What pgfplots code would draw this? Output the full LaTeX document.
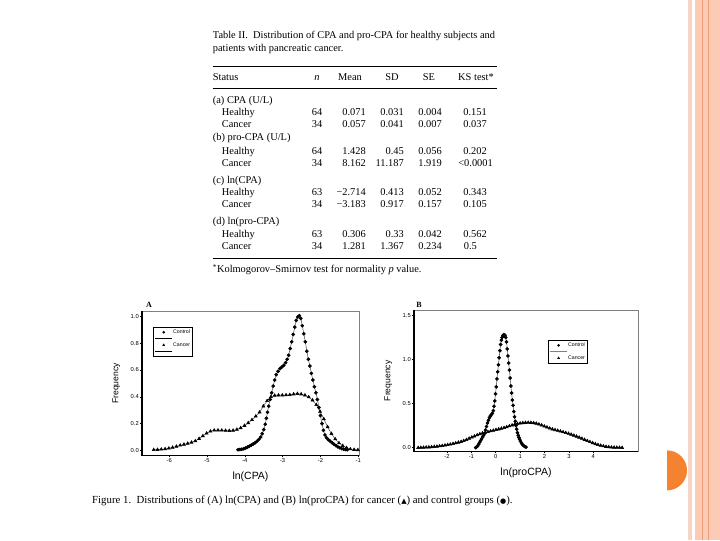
\documentclass[border=0pt]{standalone}
\usepackage{pgfplots}
\usepackage{pgfplotstable}
\pgfplotsset{compat=1.18}
\usepackage{fontspec}
\setmainfont{Liberation Serif}
\setsansfont{Liberation Sans}
\newfontfamily\symfont{DejaVu Sans}
\definecolor{peach}{RGB}{251,203,182}
\definecolor{peachlight}{RGB}{246,212,196}
\definecolor{peachdark}{RGB}{236,158,122}
\definecolor{accent}{RGB}{245,130,48}

\pgfplotstableread{
x y
-4.18 0.005
-4.13 0.007
-4.08 0.009
-4.03 0.012
-3.98 0.018
-3.93 0.025
-3.88 0.032
-3.83 0.040
-3.78 0.048
-3.73 0.057
-3.68 0.068
-3.63 0.082
-3.58 0.100
-3.54 0.125
-3.50 0.155
-3.46 0.195
-3.43 0.240
-3.40 0.285
-3.37 0.330
-3.33 0.380
-3.29 0.430
-3.25 0.480
-3.21 0.525
-3.17 0.565
-3.12 0.590
-3.07 0.610
-3.02 0.622
-2.97 0.635
-2.92 0.655
-2.88 0.680
-2.84 0.710
-2.80 0.760
-2.76 0.810
-2.72 0.865
-2.68 0.920
-2.64 0.970
-2.60 0.995
-2.56 1.005
-2.52 0.985
-2.48 0.930
-2.44 0.870
-2.40 0.810
-2.36 0.740
-2.32 0.680
-2.28 0.630
-2.24 0.575
-2.20 0.525
-2.16 0.475
-2.12 0.430
-2.08 0.380
-2.04 0.320
-2.00 0.260
-1.96 0.200
-1.92 0.150
-1.88 0.115
-1.84 0.095
-1.79 0.080
-1.74 0.068
-1.69 0.057
-1.64 0.046
-1.59 0.036
-1.54 0.027
-1.49 0.020
-1.44 0.014
-1.39 0.010
-1.34 0.007
-1.29 0.005
}\ctrlA

\pgfplotstableread{
x y
-6.41 0.005
-6.31 0.006
-6.21 0.008
-6.11 0.011
-6.01 0.016
-5.91 0.022
-5.81 0.030
-5.71 0.038
-5.61 0.045
-5.51 0.052
-5.41 0.060
-5.31 0.070
-5.21 0.088
-5.11 0.108
-5.01 0.128
-4.91 0.143
-4.81 0.150
-4.71 0.151
-4.61 0.150
-4.51 0.148
-4.41 0.147
-4.31 0.149
-4.21 0.156
-4.11 0.168
-4.01 0.185
-3.91 0.205
-3.81 0.228
-3.71 0.255
-3.61 0.285
-3.51 0.330
-3.41 0.370
-3.31 0.400
-3.21 0.410
-3.11 0.412
-3.01 0.412
-2.91 0.413
-2.81 0.415
-2.71 0.420
-2.61 0.423
-2.51 0.420
-2.41 0.412
-2.31 0.398
-2.21 0.375
-2.11 0.340
-2.01 0.290
-1.91 0.235
-1.81 0.175
-1.71 0.125
-1.61 0.085
-1.51 0.055
-1.41 0.035
-1.31 0.020
-1.21 0.010
-1.11 0.006
-1.01 0.004
}\cancA

\pgfplotstableread{
x y
-0.82 0.00
-0.78 0.01
-0.74 0.02
-0.70 0.04
-0.66 0.06
-0.62 0.08
-0.58 0.10
-0.54 0.12
-0.50 0.14
-0.46 0.16
-0.42 0.20
-0.38 0.24
-0.34 0.28
-0.30 0.31
-0.26 0.34
-0.22 0.36
-0.18 0.375
-0.14 0.39
-0.10 0.42
-0.07 0.47
-0.04 0.53
-0.01 0.61
0.02 0.69
0.05 0.78
0.08 0.86
0.11 0.94
0.14 1.02
0.17 1.10
0.20 1.17
0.23 1.22
0.26 1.25
0.29 1.27
0.32 1.28
0.35 1.28
0.38 1.275
0.41 1.25
0.44 1.20
0.47 1.12
0.50 1.04
0.53 0.96
0.56 0.88
0.59 0.79
0.62 0.70
0.65 0.62
0.68 0.54
0.71 0.48
0.74 0.41
0.77 0.35
0.80 0.30
0.83 0.25
0.86 0.21
0.89 0.17
0.92 0.14
0.95 0.115
0.98 0.095
1.01 0.075
1.05 0.055
1.09 0.038
1.13 0.025
1.18 0.014
1.24 0.006
}\ctrlB

\pgfplotstableread{
x y
-3.18 0.000
-3.07 0.001
-2.96 0.002
-2.85 0.004
-2.74 0.006
-2.63 0.008
-2.52 0.011
-2.41 0.014
-2.30 0.018
-2.19 0.022
-2.08 0.027
-1.97 0.032
-1.86 0.038
-1.75 0.045
-1.64 0.052
-1.53 0.060
-1.42 0.068
-1.31 0.078
-1.20 0.090
-1.09 0.105
-0.98 0.118
-0.87 0.130
-0.76 0.143
-0.65 0.155
-0.54 0.165
-0.43 0.172
-0.32 0.180
-0.21 0.188
-0.10 0.195
0.01 0.203
0.12 0.210
0.23 0.218
0.34 0.226
0.45 0.235
0.56 0.245
0.67 0.255
0.78 0.265
0.89 0.272
1.00 0.277
1.11 0.281
1.22 0.284
1.33 0.285
1.44 0.284
1.55 0.281
1.66 0.275
1.77 0.266
1.88 0.255
1.99 0.243
2.10 0.232
2.21 0.220
2.32 0.210
2.43 0.202
2.54 0.194
2.65 0.186
2.76 0.178
2.87 0.169
2.98 0.160
3.09 0.150
3.20 0.139
3.31 0.128
3.42 0.116
3.53 0.104
3.64 0.091
3.75 0.078
3.86 0.066
3.97 0.054
4.08 0.043
4.19 0.033
4.30 0.025
4.41 0.018
4.52 0.012
4.63 0.008
4.74 0.005
4.85 0.003
4.96 0.002
5.07 0.001
5.18 0.000
}\cancB

\pgfplotsset{
  panel/.style={
    scale only axis,
    anchor=south west,
    tick align=outside,
    tick pos=left,
    major tick length=2pt,
    tick style={black, line width=0.5pt},
    axis line style={gray, line width=0.4pt},
    /pgf/number format/assume math mode=true,
    ticklabel style={font=\sffamily\fontsize{5.8}{6}\selectfont, inner sep=1pt},
    yticklabel style={/pgf/number format/fixed, /pgf/number format/fixed zerofill, /pgf/number format/precision=1},
    xlabel style={font=\sffamily\fontsize{10.5}{11}\selectfont, yshift=-5pt},
    ylabel style={font=\sffamily\fontsize{8.6}{10}\selectfont, yshift=6pt},
    legend cell align=left,
    clip=false,
  },
  leg/.style={draw=black, line width=0.4pt,
    font=\sffamily\fontsize{5.2}{5.5}\selectfont, inner sep=1.5pt, row sep=0pt,
    nodes={inner sep=0.6pt},
    /tikz/every even column/.append style={column sep=1pt}},
  ctrl/.style={draw=black!65, line width=0.55pt, mark=*, mark size=1.55pt, mark options={fill=black, draw=black, solid}},
  canc/.style={draw=black!65, line width=0.55pt, mark=triangle*, mark size=1.7pt, mark options={fill=black, draw=black, solid}},
}

\tikzset{tb/.style={inner sep=0pt, font=\fontsize{10.4}{12}\selectfont}}
\newcommand\trow[8]{%
  \node[tb, anchor=base west] at (221.7pt,#1pt) {#2};
  \node[tb, anchor=base] at (317pt,#1pt) {#3};
  \node[tb, anchor=base east] at (366pt,#1pt) {#4};
  \node[tb, anchor=base east] at (404pt,#1pt) {#5};
  \node[tb, anchor=base east] at (442pt,#1pt) {#6};
  \node[tb, anchor=base east] at (#7pt,#1pt) {#8};
}

\begin{document}
\begin{tikzpicture}
\fill[white] (0pt,0pt) rectangle (720pt,540pt);
% slide decoration
\fill[peachlight] (688pt,0pt) rectangle (692pt,540pt);
\fill[peach] (695pt,0pt) rectangle (720pt,540pt);
\draw[peachdark, line width=0.8pt] (702pt,0pt) -- (702pt,540pt);
\draw[peachdark, line width=0.5pt] (708pt,0pt) -- (708pt,540pt);
\fill[accent] (667pt,50pt) arc[start angle=-90, end angle=90, radius=20pt] -- cycle;

% table
\node[tb, anchor=base west] at (212.7pt,501.5pt) {Table II.\ \ Distribution of CPA and pro-CPA for healthy subjects and};
\node[tb, anchor=base west] at (212.7pt,488.5pt) {patients with pancreatic cancer.};
\draw[line width=0.8pt] (212.7pt,474.3pt) -- (497pt,474.3pt);
\node[tb, anchor=base west] at (212.7pt,459.5pt) {Status};
\node[tb, anchor=base] at (317pt,459.5pt) {\itshape n};
\node[tb, anchor=base] at (350pt,459.5pt) {Mean};
\node[tb, anchor=base] at (392pt,459.5pt) {SD};
\node[tb, anchor=base] at (429pt,459.5pt) {SE};
\node[tb, anchor=base] at (476pt,459.5pt) {KS test*};
\draw[line width=0.6pt] (212.7pt,452pt) -- (497pt,452pt);
\node[tb, anchor=base west] at (212.7pt,436.5pt) {(a) CPA (U/L)};
\trow{425}{Healthy}{64}{0.071}{0.031}{0.004}{487}{0.151}
\trow{412.5}{Cancer}{34}{0.057}{0.041}{0.007}{487}{0.037}
\node[tb, anchor=base west] at (212.7pt,399.5pt) {(b) pro-CPA (U/L)};
\trow{386}{Healthy}{64}{1.428}{0.45}{0.056}{487}{0.202}
\trow{374}{Cancer}{34}{8.162}{11.187}{1.919}{493}{<0.0001}
\node[tb, anchor=base west] at (212.7pt,356.5pt) {(c) ln(CPA)};
\trow{344.5}{Healthy}{63}{−2.714}{0.413}{0.052}{487}{0.343}
\trow{332.5}{Cancer}{34}{−3.183}{0.917}{0.157}{487}{0.105}
\node[tb, anchor=base west] at (212.7pt,315.5pt) {(d) ln(pro-CPA)};
\trow{302.5}{Healthy}{63}{0.306}{0.33}{0.042}{487}{0.562}
\trow{290.5}{Cancer}{34}{1.281}{1.367}{0.234}{477}{0.5}
\draw[line width=1pt] (212.7pt,282pt) -- (497pt,282pt);
\node[tb, anchor=base west] at (212.7pt,267.5pt) {\textsuperscript{*}Kolmogorov–Smirnov test for normality \textit{p} value.};

% panel labels
\node[font=\bfseries\fontsize{8}{9}\selectfont, anchor=base] at (149pt,233pt) {A};
\node[font=\bfseries\fontsize{8}{9}\selectfont, anchor=base] at (419pt,233pt) {B};

% Panel A
\begin{axis}[panel,
  at={(142pt,85pt)}, width=217pt, height=144pt,
  xmin=-6.72, xmax=-0.98, ymin=-0.037, ymax=1.037,
  xtick={-6,-5,-4,-3,-2,-1}, ytick={0,0.2,0.4,0.6,0.8,1.0},
  xlabel={ln(CPA)}, ylabel={Frequency},
  legend style={leg, at={(rel axis cs:0.051,0.889)}, anchor=north west},
]
\draw[black, line width=1.1pt] (rel axis cs:0,1) -- (rel axis cs:0,0) -- (rel axis cs:1,0);
\addplot[ctrl, forget plot] table {\ctrlA};
\addplot[canc, forget plot] table {\cancA};
\addlegendimage{only marks, mark=*, mark size=1.1pt, fill=black}
\addlegendentry{Control\hspace{6pt}}
\addlegendimage{line legend, black, line width=0.8pt}
\addlegendentry{\phantom{C}}
\addlegendimage{only marks, mark=triangle*, mark size=1.2pt, fill=black}
\addlegendentry{Cancer}
\addlegendimage{line legend, black, line width=0.8pt}
\addlegendentry{\phantom{C}}
\end{axis}

% Panel B
\begin{axis}[panel,
  at={(414pt,89pt)}, width=224pt, height=141pt,
  xmin=-3.35, xmax=5.83, ymin=-0.042, ymax=1.557,
  xtick={-2,-1,0,1,2,3,4}, ytick={0,0.5,1.0,1.5},
  xlabel={ln(proCPA)}, ylabel={Frequency},
  legend style={leg, at={(rel axis cs:0.598,0.787)}, anchor=north west},
]
\draw[black, line width=1.1pt] (rel axis cs:0,1) -- (rel axis cs:0,0) -- (rel axis cs:1,0);
\addplot[ctrl, forget plot] table {\ctrlB};
\addplot[canc, forget plot] table {\cancB};
\addlegendimage{only marks, mark=*, mark size=1.1pt, fill=black}
\addlegendentry{Control\hspace{5pt}}
\addlegendimage{line legend, gray, line width=0.8pt}
\addlegendentry{\phantom{C}}
\addlegendimage{only marks, mark=triangle*, mark size=1.2pt, fill=black}
\addlegendentry{Cancer}
\end{axis}

% caption
\node[anchor=base west, inner sep=0pt, font=\fontsize{10.8}{12}\selectfont] at (92pt,37pt)
  {Figure 1.\ \ Distributions of (A) ln(CPA) and (B) ln(proCPA) for cancer ({\symfont\fontsize{7}{8}\selectfont ▲}) and control groups ({\symfont\fontsize{7}{8}\selectfont ●}).};
\end{tikzpicture}
\end{document}
